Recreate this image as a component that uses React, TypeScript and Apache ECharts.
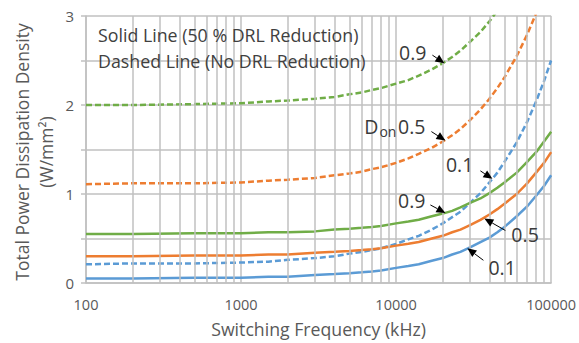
import React, { useEffect, useRef } from "react";
import * as echarts from "echarts";

// Switching frequency samples (kHz)
const freqs = [100, 200, 500, 1000, 1500, 2000, 3000, 4000, 5000, 6000, 7000, 8000, 10000, 12000, 14000, 17000, 20000, 23000, 26000, 30000, 35000, 40000, 45000, 50000, 60000, 70000, 80000, 90000, 100000];

// Dashed: no DRL reduction
const dashed09 = [2.0, 2.0, 2.01, 2.02, 2.04, 2.05, 2.07, 2.09, 2.12, 2.14, 2.17, 2.19, 2.24, 2.28, 2.33, 2.4, 2.47, 2.54, 2.61, 2.71, 2.82, 2.94, 3.06, null, null, null, null, null, null];
const dashed05 = [1.11, 1.12, 1.12, 1.13, 1.15, 1.16, 1.18, 1.21, 1.23, 1.25, 1.28, 1.3, 1.35, 1.4, 1.45, 1.52, 1.59, 1.66, 1.73, 1.83, 1.95, 2.07, 2.19, 2.31, 2.55, 2.79, 3.03, null, null];
const dashed01 = [0.21, 0.22, 0.22, 0.23, 0.24, 0.26, 0.28, 0.3, 0.33, 0.35, 0.37, 0.39, 0.44, 0.49, 0.53, 0.6, 0.67, 0.74, 0.8, 0.9, 1.01, 1.13, 1.24, 1.36, 1.58, 1.81, 2.04, 2.27, 2.5];
// Solid: 50 % DRL reduction
const solid09 = [0.55, 0.55, 0.56, 0.56, 0.57, 0.57, 0.58, 0.6, 0.61, 0.62, 0.63, 0.64, 0.67, 0.69, 0.71, 0.75, 0.78, 0.81, 0.85, 0.9, 0.95, 1.01, 1.07, 1.13, 1.24, 1.36, 1.47, 1.59, 1.7];
const solid05 = [0.3, 0.3, 0.31, 0.31, 0.32, 0.32, 0.34, 0.35, 0.36, 0.37, 0.38, 0.39, 0.42, 0.44, 0.46, 0.5, 0.53, 0.57, 0.6, 0.65, 0.71, 0.77, 0.83, 0.89, 1.0, 1.12, 1.24, 1.35, 1.47];
const solid01 = [0.05, 0.05, 0.06, 0.06, 0.07, 0.07, 0.09, 0.1, 0.11, 0.12, 0.13, 0.14, 0.17, 0.19, 0.21, 0.25, 0.28, 0.32, 0.35, 0.4, 0.46, 0.51, 0.57, 0.63, 0.75, 0.86, 0.98, 1.09, 1.21];

// Minor vertical grid lines
const minorGrid = [200, 300, 400, 500, 600, 700, 800, 900, 2000, 3000, 4000, 5000, 6000, 7000, 8000, 9000, 20000, 30000, 40000, 50000, 60000, 70000, 80000, 90000];

const yTickLabels = ["0", "1", "2", "3"];

// Annotations: arrow tip on a curve (data space), text offset, tail offset (px)
const annotations = [
  { text: "0.9", tip: [20500, 2.47], tdx: -18, tdy: -11, align: "right", ax: -12, ay: -8 },
  { text: "0.5", tip: [20800, 1.6], tdx: -20, tdy: -14, align: "right", ax: -14, ay: -9, don: true },
  { text: "0.1", tip: [41800, 1.17], tdx: -19, tdy: -14, align: "right", ax: -12, ay: -8 },
  { text: "0.9", tip: [20800, 0.787], tdx: -20, tdy: -12, align: "right", ax: -15, ay: -8 },
  { text: "0.5", tip: [37100, 0.725], tdx: 27, tdy: 16, align: "left", ax: 21, ay: 12 },
  { text: "0.1", tip: [28840, 0.39], tdx: 21, tdy: 19, align: "left", ax: 16, ay: 12 },
];

const BLUE = "#5B9BD5";
const ORANGE = "#ED7D31";
const GREEN = "#70AD47";
const GRID = "#c0c0c0";
const FONT = '"Open Sans", sans-serif';

function pairs(vals: (number | null)[]) {
  return freqs.map((f, i) => [f, vals[i]]);
}

export default function App() {
  const ref = useRef<HTMLDivElement>(null);
  useEffect(() => {
    if (!ref.current) return;
    const chart = echarts.init(ref.current, null, { renderer: "svg" });
    const lineSeries = (name: string, vals: (number | null)[], color: string, dashed: boolean) => ({
      name,
      type: "line",
      data: pairs(vals),
      showSymbol: false,
      symbol: "none",
      z: 3,
      clip: true,
      lineStyle: { color, width: 2.5, type: dashed ? [6, 3] : "solid" },
    });
    chart.setOption({
      animation: false,
      grid: { left: 86, right: 26, top: 16, bottom: 60 },
      xAxis: {
        type: "log",
        logBase: 10,
        min: 100,
        max: 100000,
        name: "Switching Frequency (kHz)",
        nameLocation: "middle",
        nameGap: 37,
        nameTextStyle: { fontSize: 17.7, color: "#595959", fontFamily: FONT },
        axisLine: { show: true, lineStyle: { color: GRID, width: 1.5 } },
        axisTick: { show: false },
        splitLine: { show: true, lineStyle: { color: GRID, width: 1.5 } },
        axisLabel: {
          fontSize: 14.5,
          color: "#595959",
          fontFamily: FONT,
          margin: 14,
          formatter: (v: number) => String(Math.round(v)),
        },
      },
      yAxis: {
        type: "value",
        min: 0,
        max: 3,
        interval: 0.5,
        axisLine: { show: true, lineStyle: { color: GRID, width: 1.5 } },
        axisTick: { show: true, length: 5, lineStyle: { color: GRID, width: 1.5 } },
        splitLine: { show: true, lineStyle: { color: GRID, width: 1.5 } },
        axisLabel: {
          fontSize: 15,
          color: "#595959",
          fontFamily: FONT,
          margin: 12,
          formatter: (v: number) => (Math.abs(v - Math.round(v)) < 1e-6 ? yTickLabels[Math.round(v)] : ""),
        },
      },
      series: [
        {
          type: "line",
          data: [],
          z: 1,
          markLine: {
            silent: true,
            symbol: ["none", "none"],
            label: { show: false },
            lineStyle: { color: GRID, width: 1.5, type: "solid" },
            data: minorGrid.map((v) => ({ xAxis: v })),
          },
        },
        lineSeries("dashed 0.9", dashed09, GREEN, true),
        lineSeries("dashed 0.5", dashed05, ORANGE, true),
        lineSeries("dashed 0.1", dashed01, BLUE, true),
        lineSeries("solid 0.9", solid09, GREEN, false),
        lineSeries("solid 0.5", solid05, ORANGE, false),
        lineSeries("solid 0.1", solid01, BLUE, false),
      ],
    });

    const graphics: any[] = [
      {
        type: "text",
        x: 98,
        y: 35,
        style: { text: "Solid Line (50 % DRL Reduction)", fill: "#404040", font: `17.8px ${FONT}`, align: "left", verticalAlign: "middle" },
        z: 10,
      },
      {
        type: "text",
        x: 98,
        y: 61,
        style: { text: "Dashed Line (No DRL Reduction)", fill: "#404040", font: `17.8px ${FONT}`, align: "left", verticalAlign: "middle" },
        z: 10,
      },
      {
        type: "text",
        x: 22,
        y: 152,
        rotation: Math.PI / 2,
        style: { text: "Total Power Dissipation Density", fill: "#595959", font: `17.5px ${FONT}`, align: "center", verticalAlign: "middle" },
      },
      {
        type: "text",
        x: 46,
        y: 152,
        rotation: Math.PI / 2,
        style: { text: "(W/mm²)", fill: "#595959", font: `17.5px ${FONT}`, align: "center", verticalAlign: "middle" },
      },
    ];

    annotations.forEach((a) => {
      const p = chart.convertToPixel({ gridIndex: 0 }, a.tip) as number[];
      const tx = p[0];
      const ty = p[1];
      const sx = tx + a.ax;
      const sy = ty + a.ay;
      const dx = tx - sx;
      const dy = ty - sy;
      const len = Math.sqrt(dx * dx + dy * dy);
      const ux = dx / len;
      const uy = dy / len;
      const hl = 9;
      const hw = 4;
      const bx = tx - ux * hl;
      const by = ty - uy * hl;
      graphics.push({
        type: "line",
        shape: { x1: sx, y1: sy, x2: bx, y2: by },
        style: { stroke: "#000", lineWidth: 1 },
        z: 10,
      });
      graphics.push({
        type: "polygon",
        shape: { points: [[tx, ty], [bx - uy * hw, by + ux * hw], [bx + uy * hw, by - ux * hw]] },
        style: { fill: "#000" },
        z: 10,
      });
      graphics.push({
        type: "text",
        x: tx + a.tdx,
        y: ty + a.tdy,
        style: { text: a.text, fill: "#3a3a3a", font: `19.5px ${FONT}`, align: a.align, verticalAlign: "middle" },
        z: 10,
      });
      if (a.don) {
        graphics.push({
          type: "text",
          x: tx + a.tdx - 29,
          y: ty + a.tdy + 5,
          style: { text: "on", fill: "#3a3a3a", font: `14px ${FONT}`, align: "right", verticalAlign: "middle" },
          z: 10,
        });
        graphics.push({
          type: "text",
          x: tx + a.tdx - 47,
          y: ty + a.tdy,
          style: { text: "D", fill: "#3a3a3a", font: `19.5px ${FONT}`, align: "right", verticalAlign: "middle" },
          z: 10,
        });
      }
    });

    chart.setOption({ graphic: graphics });
    return () => chart.dispose();
  }, []);
  return <div ref={ref} style={{ width: 579, height: 343, position: "absolute", left: 0, top: 0 }} />;
}
